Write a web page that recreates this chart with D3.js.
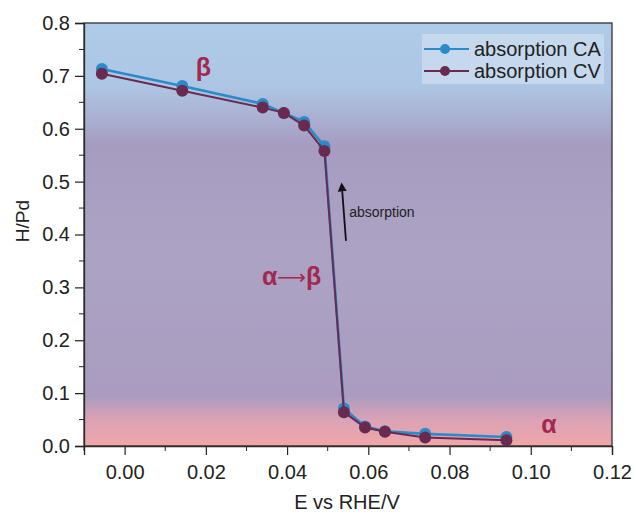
<!DOCTYPE html>
<html>
<head>
<meta charset="utf-8">
<script src="https://cdn.jsdelivr.net/npm/d3@7"></script>
<style>
  body { margin: 0; background: #fff; }
  svg { font-family: "Liberation Sans", Arial, sans-serif; }
</style>
</head>
<body>
<div id="chart"></div>
<script>
// potentials (V vs RHE)
const potentialCA = [-0.0056, 0.0142, 0.034, 0.0392, 0.0442, 0.0492, 0.054, 0.0592, 0.0641, 0.074, 0.094];
const potentialCV = [-0.0056, 0.0142, 0.034, 0.0392, 0.0442, 0.0492, 0.054, 0.0592, 0.0641, 0.074, 0.094];
// H/Pd ratios
const ratioCA = [0.713, 0.681, 0.647, 0.630, 0.613, 0.567, 0.071, 0.037, 0.028, 0.023, 0.017];
const ratioCV = [0.704, 0.672, 0.640, 0.630, 0.606, 0.558, 0.064, 0.035, 0.027, 0.016, 0.011];
const xTicks = [0.00, 0.02, 0.04, 0.06, 0.08, 0.10, 0.12];
const yTicks = [0.0, 0.1, 0.2, 0.3, 0.4, 0.5, 0.6, 0.7, 0.8];

const width = 636;
const height = 516;
const margin = {top: 23, right: 24, bottom: 70, left: 84};
const chartWidth = width - margin.left - margin.right;
const chartHeight = height - margin.top - margin.bottom;

const svg = d3.select('#chart')
  .append('svg')
    .attr('width', width)
    .attr('height', height);

const xScale = d3.scaleLinear()
    .domain([-0.01, 0.12])
    .range([0, chartWidth]);

const yScale = d3.scaleLinear()
    .domain([0, 0.8])
    .range([chartHeight, 0]);

// background gradient
const defs = svg.append('defs');
const grad = defs.append('linearGradient')
    .attr('id', 'bg')
    .attr('x1', 0).attr('y1', 0).attr('x2', 0).attr('y2', 1);
[
  [0, '#aecbe8'],
  [0.15, '#adc6e3'],
  [0.29, '#a69cc0'],
  [0.55, '#aca3c4'],
  [0.88, '#a99cc0'],
  [0.94, '#dca2b5'],
  [1, '#f0a6a8']
].forEach(([o, c]) => grad.append('stop').attr('offset', o).attr('stop-color', c));

const container = svg.append('g')
    .attr('transform', `translate(${margin.left},${margin.top})`);

container.append('rect')
    .attr('width', chartWidth)
    .attr('height', chartHeight)
    .attr('fill', 'url(#bg)');

// axes
const xAxis = d3.axisBottom(xScale)
    .tickValues(xTicks)
    .tickFormat(d3.format('.2f'))
    .tickSizeOuter(0)
    .tickSize(9)
    .tickPadding(10);
const yAxis = d3.axisLeft(yScale)
    .tickValues(yTicks)
    .tickFormat(d3.format('.1f'))
    .tickSizeOuter(0)
    .tickSize(9)
    .tickPadding(5);

const xMinor = d3.range(-0.01, 0.121, 0.02).map(v => +v.toFixed(3));
const yMinor = d3.range(0.05, 0.8, 0.1).map(v => +v.toFixed(3));

const gx = container.append('g')
    .attr('transform', `translate(0,${chartHeight})`)
    .call(xAxis);
gx.selectAll('.minor')
  .data(xMinor)
  .enter().append('line')
    .attr('x1', d => xScale(d)).attr('x2', d => xScale(d))
    .attr('y1', 0).attr('y2', 5)
    .attr('stroke', '#222');

const gy = container.append('g')
    .call(yAxis);
gy.selectAll('.minor')
  .data(yMinor)
  .enter().append('line')
    .attr('y1', d => yScale(d)).attr('y2', d => yScale(d))
    .attr('x1', 0).attr('x2', -5)
    .attr('stroke', '#222');

[gx, gy].forEach(g => {
  g.attr('font-family', null);
  g.select('.domain').attr('stroke', '#222').attr('stroke-width', 1.3);
  g.selectAll('.tick line').attr('stroke', '#222').attr('stroke-width', 1.2);
  g.selectAll('.tick text').attr('font-size', 20).attr('fill', '#222');
});

// frame
container.append('rect')
    .attr('width', chartWidth)
    .attr('height', chartHeight)
    .attr('fill', 'none')
    .attr('stroke', '#333')
    .attr('stroke-width', 1.3);

// axis titles
svg.append('text')
    .attr('x', 347)
    .attr('y', 509)
    .attr('text-anchor', 'middle')
    .attr('font-size', 20)
    .attr('fill', '#222')
    .text('E vs RHE/V');

svg.append('text')
    .attr('transform', 'translate(29,221) rotate(-90)')
    .attr('text-anchor', 'middle')
    .attr('font-size', 19)
    .attr('fill', '#222')
    .text('H/Pd');

// series
const series = [
  {name: 'absorption CA', x: potentialCA, y: ratioCA, color: '#2a8bcb', lw: 2.6},
  {name: 'absorption CV', x: potentialCV, y: ratioCV, color: '#6a2a50', lw: 2}
];

const line = d3.line()
    .x(d => xScale(d[0]))
    .y(d => yScale(d[1]));

series.forEach(s => {
  const pts = s.x.map((v, i) => [v, s.y[i]]);
  container.append('path')
      .datum(pts)
      .attr('fill', 'none')
      .attr('stroke', s.color)
      .attr('stroke-width', s.lw)
      .attr('d', line);
  container.selectAll(null)
    .data(pts)
    .enter().append('circle')
      .attr('cx', d => xScale(d[0]))
      .attr('cy', d => yScale(d[1]))
      .attr('r', 6)
      .attr('fill', s.color);
});

// annotations
const labelColor = '#a3284f';
container.append('text')
    .attr('x', xScale(0.0175))
    .attr('y', yScale(0.7))
    .attr('font-size', 25)
    .attr('font-weight', 'bold')
    .attr('fill', labelColor)
    .text('β');

const ab = container.append('text')
    .attr('x', xScale(0.0338))
    .attr('y', yScale(0.305))
    .attr('font-size', 25)
    .attr('font-weight', 'bold')
    .attr('fill', labelColor);
ab.append('tspan').text('α');
ab.append('tspan')
    .attr('font-weight', 'normal')
    .attr('font-family', 'DejaVu Sans')
    .attr('font-size', 20)
    .attr('dy', -1)
    .text('⟶');
ab.append('tspan').attr('dy', 1).text('β');

container.append('text')
    .attr('x', xScale(0.1026))
    .attr('y', yScale(0.025))
    .attr('font-size', 25)
    .attr('font-weight', 'bold')
    .attr('fill', labelColor)
    .text('α');

defs.append('marker')
    .attr('id', 'arrow')
    .attr('viewBox', '0 0 10 10')
    .attr('refX', 5).attr('refY', 5)
    .attr('markerWidth', 5).attr('markerHeight', 6)
    .attr('orient', 'auto')
  .append('path')
    .attr('d', 'M0,0 L10,5 L0,10 z')
    .attr('fill', '#111');

container.append('line')
    .attr('x1', xScale(0.0545)).attr('y1', yScale(0.388))
    .attr('x2', xScale(0.0535)).attr('y2', yScale(0.49))
    .attr('stroke', '#111')
    .attr('stroke-width', 1.8)
    .attr('marker-end', 'url(#arrow)');

container.append('text')
    .attr('x', xScale(0.0553))
    .attr('y', yScale(0.433))
    .attr('font-size', 14)
    .attr('fill', '#222')
    .text('absorption');

// legend
const legend = svg.append('g')
    .attr('transform', 'translate(422,34)');
legend.append('rect')
    .attr('width', 182)
    .attr('height', 50)
    .attr('fill', '#cadcef')
    .attr('opacity', 0.8);
series.forEach((s, i) => {
  const g = legend.append('g').attr('transform', `translate(0,${15 + i * 22})`);
  g.append('line')
      .attr('x1', 2).attr('x2', 47)
      .attr('stroke', s.color).attr('stroke-width', 2);
  g.append('circle')
      .attr('cx', 23).attr('r', 5)
      .attr('fill', s.color);
  g.append('text')
      .attr('x', 52).attr('dy', '0.35em')
      .attr('font-size', 20)
      .attr('fill', '#222')
      .text(s.name);
});
</script>
</body>
</html>
